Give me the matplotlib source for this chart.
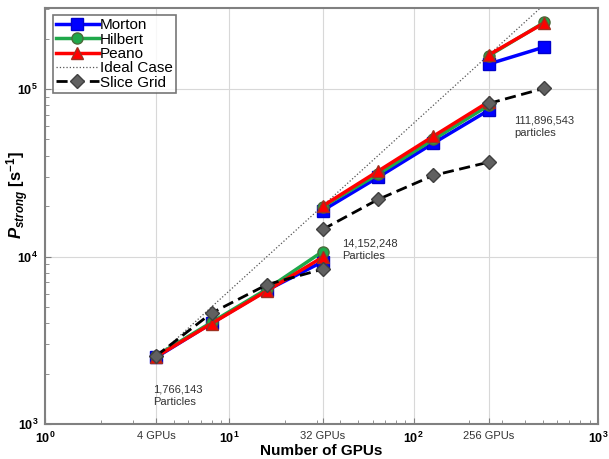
import numpy as np
import matplotlib
matplotlib.use("Agg")
import matplotlib.pyplot as plt
from matplotlib.ticker import FixedLocator, LogLocator, NullFormatter

plt.rcParams['font.family'] = ['Liberation Sans', 'DejaVu Sans']
plt.rcParams['mathtext.fontset'] = 'custom'
plt.rcParams['mathtext.rm'] = 'Liberation Sans'
plt.rcParams['mathtext.it'] = 'Liberation Sans:italic'
plt.rcParams['mathtext.bf'] = 'Liberation Sans:bold'
plt.rcParams['mathtext.bfit'] = 'Liberation Sans:italic:bold'

# GPU counts for the three problem sizes
gpus_small = [4, 8, 16, 32]
gpus_mid = [32, 64, 128, 256]
gpus_large = [256, 512]

# P_strong [1/s]
morton_small = [2500, 4000, 6300, 9300]
hilbert_small = [2550, 4050, 6400, 10700]
peano_small = [2520, 3980, 6250, 9900]
slice_small = [2550, 4600, 6800, 8400]

morton_mid = [18800, 29700, 47500, 74800]
hilbert_mid = [19800, 31000, 50000, 80000]
peano_mid = [20000, 32300, 52300, 84000]
slice_mid = [14500, 21900, 30500, 36600]

morton_large = [141000, 178000]
hilbert_large = [158000, 250000]
peano_large = [160000, 248000]
slice_large = [82000, 101000]

ideal_x = [4, 1000]
ideal_y = [2500, 2500 * 250]

annotations = [
    ("1,766,143\nParticles", 3.85, 1720),
    ("14,152,248\nParticles", 41, 12800),
    ("111,896,543\nparticles", 350, 69000),
]

fig = plt.figure(figsize=(6.09, 4.59), dpi=100)
ax = fig.add_axes([0.074, 0.076, 0.908, 0.907])

styles = {
    'Morton': dict(color='#0000ff', marker='s', markersize=8, mfc='#0000ff', mec='#0000cc'),
    'Hilbert': dict(color='#1fa84a', marker='o', markersize=8, mfc='#1fa84a', mec='#4a6a3a'),
    'Peano': dict(color='#ff0000', marker='^', markersize=9, mfc='#ff0000', mec='#a03020'),
}
series = {
    'Morton': [morton_small, morton_mid, morton_large],
    'Hilbert': [hilbert_small, hilbert_mid, hilbert_large],
    'Peano': [peano_small, peano_mid, peano_large],
}
xs = [gpus_small, gpus_mid, gpus_large]

for name, ys in series.items():
    for i, (x, y) in enumerate(zip(xs, ys)):
        ax.plot(x, y, lw=2.5, label=name if i == 0 else None, zorder=3, **styles[name])

ax.plot(ideal_x, ideal_y, ls=':', color='#555555', lw=0.9, label='Ideal Case', zorder=2)

slices = [slice_small, slice_mid, slice_large]
for i, (x, y) in enumerate(zip(xs, slices)):
    ax.plot(x, y, ls='--', color='black', lw=2, marker='D', markersize=7,
            mfc='#606060', mec='#404040', dashes=(4, 2),
            label='Slice Grid' if i == 0 else None, zorder=4)

for txt, x, y in annotations:
    ax.text(x, y, txt, fontsize=8, color='#333333', va='top', ha='left', linespacing=1.25)

ax.set_xscale('log')
ax.set_yscale('log')
ax.set_xlim(1, 1000)
ax.set_ylim(1000, 3.05e5)

xticks = [1, 4, 10, 32, 100, 256, 1000]
xlabels = ['$\\mathbf{10^{0}}$', '4 GPUs', '$\\mathbf{10^{1}}$', '32 GPUs',
           '$\\mathbf{10^{2}}$', '256 GPUs', '$\\mathbf{10^{3}}$']
ax.xaxis.set_major_locator(FixedLocator(xticks))
ax.set_xticklabels(xlabels)
ax.xaxis.set_minor_locator(LogLocator(base=10, subs=np.arange(2, 10)))
ax.xaxis.set_minor_formatter(NullFormatter())
for lab in ax.get_xticklabels():
    if 'GPUs' in lab.get_text():
        lab.set_fontsize(8)
        lab.set_color('#333333')
    else:
        lab.set_fontsize(9)

ax.yaxis.set_major_locator(FixedLocator([1e3, 1e4, 1e5]))
ax.set_yticklabels(['$\\mathbf{10^{3}}$', '$\\mathbf{10^{4}}$', '$\\mathbf{10^{5}}$'], fontsize=9)
ax.yaxis.set_minor_locator(LogLocator(base=10, subs=np.arange(2, 10)))
ax.yaxis.set_minor_formatter(NullFormatter())

ax.tick_params(which='both', direction='in', color='#808080')
ax.tick_params(which='major', length=4, pad=5)
ax.tick_params(which='minor', length=3)

ax.grid(True, which='major', color='#d8d8d8', lw=0.8)
ax.set_axisbelow(True)

for sp in ax.spines.values():
    sp.set_color('#808080')
    sp.set_linewidth(1.5)

ax.set_xlabel('Number of GPUs', fontsize=11, fontweight='bold')
ax.xaxis.set_label_coords(0.5, -0.048)
ax.set_ylabel('$\\mathbfit{P_{strong}}$ $\\mathbf{[s^{-1}]}$', fontsize=12)
ax.yaxis.set_label_coords(-0.026, 0.55)

leg = ax.legend(loc='upper left', fontsize=11, frameon=True, fancybox=False,
                handlelength=2.8, handletextpad=0.1, borderpad=0.2, labelspacing=0.02,
                borderaxespad=0.5)
leg.get_frame().set_edgecolor('#555555')
leg.get_frame().set_linewidth(1.2)

fig.savefig('out.png', dpi=100)
